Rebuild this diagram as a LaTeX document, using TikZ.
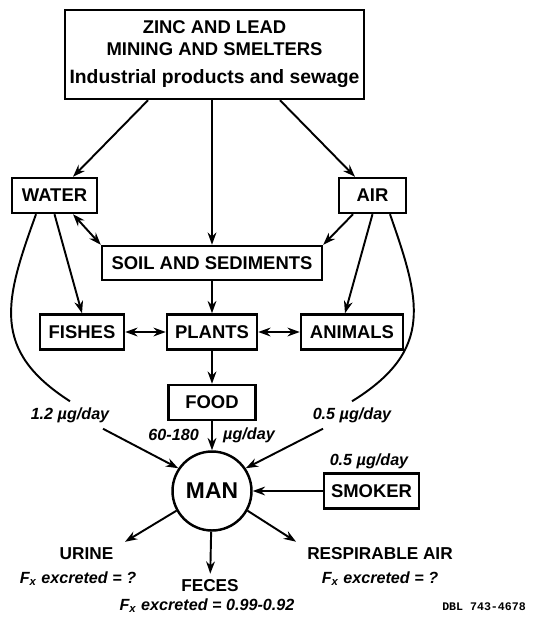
\documentclass[tikz,border=0pt]{standalone}
\usepackage{fontspec}
\setmainfont{Liberation Sans}
\newfontfamily\dblfont{Liberation Mono}
\usetikzlibrary{arrows.meta}

\newcommand{\boxfont}{\fontsize{10.5}{12.5}\selectfont\bfseries}
\newcommand{\manfont}{\fontsize{13}{15}\selectfont\bfseries}
\newcommand{\ratefont}{\fontsize{9.2}{11}\selectfont\bfseries\itshape}
\newcommand{\sinkfont}{\fontsize{9.8}{12}\selectfont\bfseries}

\tikzset{
  box/.style={draw, line width=1.4pt, inner sep=2pt, minimum height=0.7cm, font=\boxfont},
  flow/.style={->, line width=1.1pt},
  rate/.style={font=\ratefont},
  sink/.style={font=\sinkfont},
}

\begin{document}
\begin{tikzpicture}[x=0.02cm,y=-0.02cm,>={Stealth[length=7pt,width=5pt]}]
  \useasboundingbox (0,0) rectangle (535,619);
  % sources
  \node[box,align=center,minimum width=5.98cm,minimum height=1.78cm] (src) at (214.5,54.5)
    {ZINC AND LEAD\\ MINING AND SMELTERS\\[3.4pt] {\fontsize{11}{12.5}\selectfont Industrial products and sewage}};
  \node[box,minimum width=1.7cm] (water) at (54.5,195.5) {WATER};
  \node[box,minimum width=1.34cm] (air) at (372.5,195.5) {AIR};
  \node[box,minimum width=4.4cm,minimum height=0.68cm] (soil) at (212,263) {SOIL AND SEDIMENTS};
  \node[box,minimum width=1.68cm] (fishes) at (82,332) {FISHES};
  \node[box,minimum width=1.8cm] (plants) at (212,332) {PLANTS};
  \node[box,minimum width=2.04cm] (animals) at (352,332) {ANIMALS};
  \node[box,minimum width=1.74cm] (food) at (212,402.5) {FOOD};
  \node[draw,circle,line width=1.4pt,minimum size=1.58cm,font=\manfont] (man) at (212,491) {MAN};
  \node[box,minimum width=1.9cm] (smoker) at (371.5,491) {SMOKER};

  % intake rates
  \node[rate] (ratew) at (70,415) {1.2 µg/day};
  \node[rate,anchor=east] (ratef) at (205,435) {60-180};
  \node[rate,anchor=west] (ratefu) at (217,435) {µg/day};
  \node[rate] (ratea) at (352,415) {0.5 µg/day};
  \node[rate] (rates) at (369,461) {0.5 µg/day};

  % excretion
  \node[sink] (urine) at (86.5,554) {URINE};
  \node[rate] (urinefx) at (78,579) {F\textsubscript{x} excreted = ?};
  \node[sink] (feces) at (210,586) {FECES};
  \node[rate] (fecesfx) at (207,606) {F\textsubscript{x} excreted = 0.99-0.92};
  \node[sink] (resp) at (380,554) {RESPIRABLE AIR};
  \node[rate] (respfx) at (380,579) {F\textsubscript{x} excreted = ?};
  \node[font=\dblfont\bfseries\fontsize{6.6}{8}\selectfont,anchor=east] (dbl) at (532,607) {DBL 743-4678};

  \draw[flow] ([xshift=-1.33cm]src.south) -- ([xshift=0.37cm]water.north);
  \draw[flow] (src.south -| soil.north) -- (soil.north);
  \draw[flow] ([xshift=1.31cm]src.south) -- ([xshift=-0.35cm]air.north);
  \draw[flow] (water.south) -- (fishes.north);
  \draw[flow,<->] ([xshift=0.37cm]water.south) -- (soil.north west);
  \draw[flow] ([xshift=-0.39cm]air.south) -- (soil.north east);
  \draw[flow] (air.south) -- ([xshift=-0.14cm]animals.north);
  \draw[line width=1.1pt] ([xshift=-0.37cm]water.south) .. controls (5,300) and (-10,350) .. (ratew.north);
  \draw[line width=1.1pt] ([xshift=0.35cm]air.south) .. controls (420,300) and (435,350) .. (ratea.north);
  \draw[flow] (soil) -- (plants);
  \draw[flow,<->] (fishes) -- (plants);
  \draw[flow,<->] (plants) -- (animals);
  \draw[flow] (plants) -- (food);
  \draw[flow] (food) -- (man);
  \draw[flow] ([xshift=0.66cm]ratew.south) -- (man.146);
  \draw[flow] ([xshift=-0.58cm]ratea.south) -- (man.34);
  \draw[flow] (smoker) -- (man);
  \draw[flow] (man.209) -- ([xshift=0.77cm]urine.north);
  \draw[flow] (man) -- (feces);
  \draw[flow] (man.-29) -- ([xshift=-1.68cm]resp.north);
\end{tikzpicture}
\end{document}
